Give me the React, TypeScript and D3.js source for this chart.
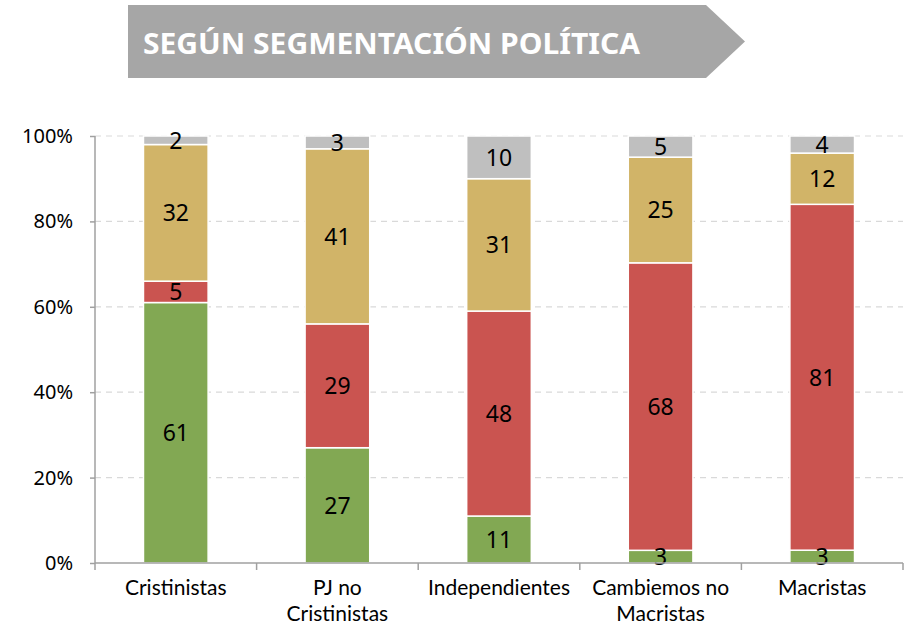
import { useRef, useEffect } from "react";
import * as d3 from "d3";

const categories = ["Cristinistas", "PJ no\nCristinistas", "Independientes", "Cambiemos no\nMacristas", "Macristas"];
const seriesKeys = ["verde", "rojo", "amarillo", "gris"];
const verde = [61, 27, 11, 3, 3];
const rojo = [5, 29, 48, 68, 81];
const amarillo = [32, 41, 31, 25, 12];
const gris = [2, 3, 10, 5, 4];
const yTicks = [0, 20, 40, 60, 80, 100];
const title = "SEGÚN SEGMENTACIÓN POLÍTICA";

const colors: Record<string, string> = {
  verde: "#82A853",
  rojo: "#CA5450",
  amarillo: "#D1B468",
  gris: "#BFBFBF",
};

const W = 907;
const H = 624;
const margin = { top: 136, right: 4, bottom: 61, left: 95 };
const FONT = "'Noto Sans', 'Open Sans', sans-serif";
const CAT_FONT = "Lato, 'Noto Sans', sans-serif";

export default function App() {
  const svgRef = useRef<SVGSVGElement | null>(null);

  useEffect(() => {
    const svg = d3.select(svgRef.current);
    svg.selectAll("*").remove();

    const rows = categories.map((c, i) => ({
      cat: c,
      verde: verde[i],
      rojo: rojo[i],
      amarillo: amarillo[i],
      gris: gris[i],
    }));

    const x = d3
      .scaleBand()
      .domain(categories)
      .range([margin.left, W - margin.right])
      .paddingInner(0.6)
      .paddingOuter(0.3);
    const y = d3
      .scaleLinear()
      .domain([0, 1])
      .range([H - margin.bottom, margin.top]);

    const stack = d3.stack<any>().keys(seriesKeys).offset(d3.stackOffsetExpand);
    const layers = stack(rows);

    // banner
    const banner = svg.append("g");
    banner
      .append("path")
      .attr("d", "M128,5 L706,5 L745,41.5 L706,78 L128,78 Z")
      .attr("fill", "#A6A6A6");
    banner
      .append("text")
      .attr("x", 143)
      .attr("y", 54)
      .attr("fill", "#fff")
      .attr("font-family", FONT)
      .attr("font-weight", 700)
      .attr("font-size", 28)
      .attr("textLength", 497)
      .attr("lengthAdjust", "spacingAndGlyphs")
      .text(title);

    // grid
    svg
      .append("g")
      .selectAll("line")
      .data(yTicks.filter((t) => t > 0))
      .join("line")
      .attr("x1", margin.left)
      .attr("x2", W - margin.right)
      .attr("y1", (d) => y(d / 100))
      .attr("y2", (d) => y(d / 100))
      .attr("stroke", "#D9D9D9")
      .attr("stroke-width", 1.2)
      .attr("stroke-dasharray", "6,5");

    // bars
    const g = svg.append("g");
    layers.forEach((layer) => {
      g.append("g")
        .selectAll("rect")
        .data(layer)
        .join("rect")
        .attr("x", (d: any) => x(d.data.cat)!)
        .attr("width", x.bandwidth())
        .attr("y", (d) => y(d[1]))
        .attr("height", (d) => Math.max(0, y(d[0]) - y(d[1])))
        .attr("fill", colors[layer.key])
        .attr("stroke", "#fff")
        .attr("stroke-width", 1.5);
    });

    // value labels
    layers.forEach((layer) => {
      g.append("g")
        .selectAll("text")
        .data(layer)
        .join("text")
        .attr("x", (d: any) => x(d.data.cat)! + x.bandwidth() / 2)
        .attr("y", (d) => (y(d[0]) + y(d[1])) / 2)
        .attr("dy", "0.36em")
        .attr("text-anchor", "middle")
        .attr("font-family", FONT)
        .attr("font-size", 23)
        .attr("fill", "#000")
        .text((d: any) => d.data[layer.key]);
    });

    // y axis
    const yAxis = svg
      .append("g")
      .attr("transform", `translate(${margin.left},0)`)
      .call(
        d3
          .axisLeft(y)
          .tickValues(yTicks.map((t) => t / 100))
          .tickFormat((d) => `${Math.round(+d * 100)}%`)
          .tickSize(5)
          .tickPadding(17)
      );
    yAxis.select(".domain").attr("stroke", "#A0A0A0").attr("stroke-width", 1.5).attr("d", `M0,${margin.top}V${H - margin.bottom}`);
    yAxis.selectAll(".tick line").attr("stroke", "#A0A0A0").attr("stroke-width", 1.5);
    yAxis
      .selectAll(".tick text")
      .attr("font-family", FONT)
      .attr("font-size", 20)
      .attr("fill", "#000");

    // x axis
    const xg = svg.append("g").attr("transform", `translate(0,${H - margin.bottom})`);
    xg.append("line")
      .attr("x1", margin.left)
      .attr("x2", W - margin.right)
      .attr("stroke", "#A0A0A0")
      .attr("stroke-width", 1.5);
    const bounds = d3.range(categories.length + 1).map((i) => margin.left + i * x.step());
    xg.selectAll("line.tk")
      .data(bounds)
      .join("line")
      .attr("class", "tk")
      .attr("x1", (d) => d)
      .attr("x2", (d) => d)
      .attr("y1", 0)
      .attr("y2", 7)
      .attr("stroke", "#A0A0A0")
      .attr("stroke-width", 1.5);
    xg.selectAll("text.cat")
      .data(categories)
      .join("text")
      .attr("class", "cat")
      .attr("x", (d) => x(d)! + x.bandwidth() / 2)
      .attr("y", 32)
      .attr("text-anchor", "middle")
      .attr("font-family", CAT_FONT)
      .attr("font-size", 21)
      .attr("fill", "#000")
      .each(function (d) {
        const parts = d.split("\n");
        d3.select(this)
          .selectAll("tspan")
          .data(parts)
          .join("tspan")
          .attr("x", x(d)! + x.bandwidth() / 2)
          .attr("dy", (_, i) => (i === 0 ? 0 : 25.5))
          .text((p) => p);
      });
  }, []);

  return (
    <svg
      ref={svgRef}
      width={W}
      height={H}
      style={{ position: "absolute", left: 0, top: 0, background: "#fff" }}
    />
  );
}
